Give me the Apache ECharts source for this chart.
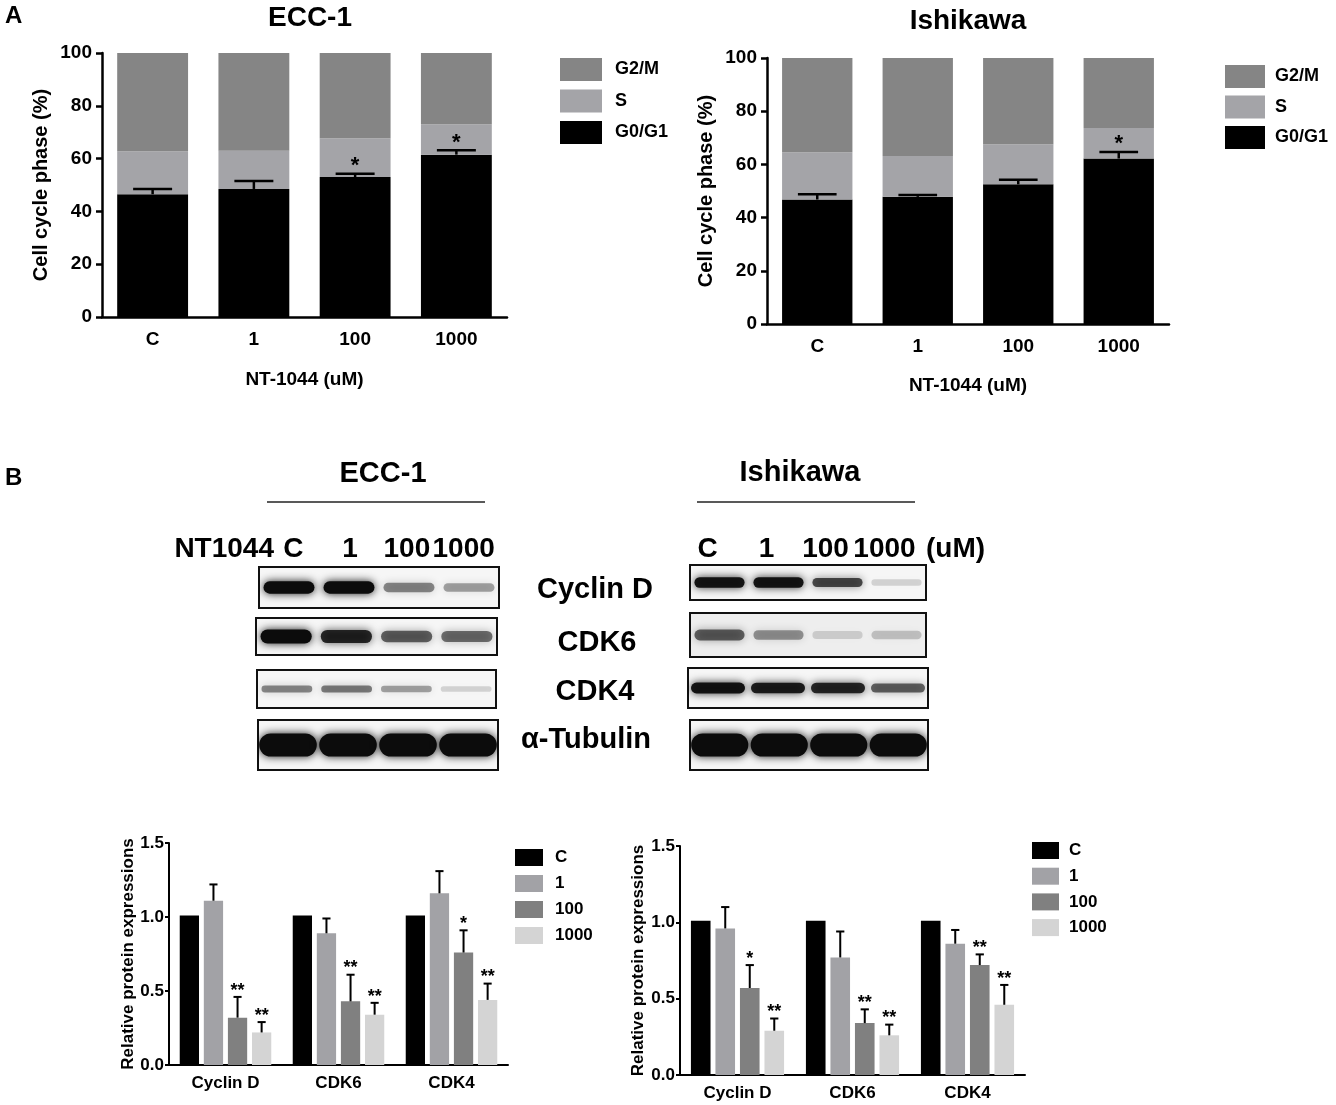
<!DOCTYPE html>
<html>
<head>
<meta charset="utf-8">
<script src="https://cdn.jsdelivr.net/npm/echarts@6.0.0/dist/echarts.min.js"></script>
<style>
  html, body { margin: 0; padding: 0; background: #fff; }
  #main { width: 1336px; height: 1105px; }
</style>
</head>
<body>
<div id="main"></div>
<script>
var FONT = '"Liberation Sans", Arial, sans-serif'

// ---- panel A: cell cycle phase (%) ----
var doses = ['C', '1', '100', '1000']
var phaseNames = ['G0/G1', 'S', 'G2/M']
var eccG0G1 = [46.5, 48.5, 53.0, 61.5]
var eccS = [16.3, 14.5, 14.7, 11.5]
var eccG2M = [37.2, 37.0, 32.3, 27.0]
var eccG0G1Err = [2.0, 3.0, 1.3, 1.7]
var eccPhaseStars = ['', '', '*', '*']
var ishG0G1 = [46.8, 47.8, 52.5, 62.2]
var ishS = [17.8, 15.4, 15.1, 11.5]
var ishG2M = [35.4, 36.8, 32.4, 26.3]
var ishG0G1Err = [2.0, 0.7, 1.7, 2.5]
var ishPhaseStars = ['', '', '', '*']

// ---- panel B: western blot band intensities (0..1 per lane) ----
var blotNames = ['Cyclin D', 'CDK6', 'CDK4', 'α-Tubulin']
var eccCyclinDBand = [1.0, 1.0, 0.45, 0.35]
var eccCdk6Band = [1.0, 0.85, 0.6, 0.55]
var eccCdk4Band = [0.45, 0.5, 0.35, 0.15]
var eccTubulinBand = [1.0, 1.0, 1.0, 1.0]
var ishCyclinDBand = [0.95, 0.95, 0.7, 0.15]
var ishCdk6Band = [0.6, 0.4, 0.15, 0.2]
var ishCdk4Band = [0.95, 0.9, 0.85, 0.6]
var ishTubulinBand = [1.0, 1.0, 1.0, 1.0]

// ---- panel B: relative protein expressions ----
var proteins = ['Cyclin D', 'CDK6', 'CDK4']
var eccC = [1.01, 1.01, 1.01]
var ecc1 = [1.11, 0.89, 1.16]
var ecc100 = [0.32, 0.43, 0.76]
var ecc1000 = [0.22, 0.34, 0.44]
var ecc1Err = [0.11, 0.10, 0.15]
var ecc100Err = [0.14, 0.18, 0.15]
var ecc1000Err = [0.07, 0.08, 0.11]
var ecc100Stars = ['**', '**', '*']
var ecc1000Stars = ['**', '**', '**']
var ishC = [1.01, 1.01, 1.01]
var ish1 = [0.96, 0.77, 0.86]
var ish100 = [0.57, 0.34, 0.72]
var ish1000 = [0.29, 0.26, 0.46]
var ish1Err = [0.14, 0.17, 0.09]
var ish100Err = [0.15, 0.09, 0.07]
var ish1000Err = [0.08, 0.07, 0.13]
var ish100Stars = ['*', '**', '**']
var ish1000Stars = ['**', '**', '**']

var doseColors = ['#000000', '#a2a2a6', '#808080', '#d4d4d4']
var CAT_GAP = 0.19
var BAR_GAP = 0.25

var grids = [], xAxes = [], yAxes = [], series = [], legends = [], graphics = []

function bold(size) {
  return { color: '#000', fontWeight: 'bold', fontSize: size, fontFamily: FONT }
}

function text(x, y, str, size, align) {
  return {
    type: 'text', x: x, y: y, z: 10,
    style: {
      text: str, fill: '#000', font: 'bold ' + size + 'px ' + FONT,
      align: align || 'center', textAlign: align || 'center',
      verticalAlign: 'middle', textVerticalAlign: 'middle'
    }
  }
}

// error bar (upwards only) + significance stars
function errorBar(slot, nSlots, barRatio, capRatio, stars, starSize, lw) {
  return function (params, api) {
    var cat = api.value(0)
    var mean = api.value(1)
    var err = api.value(2)
    var band = api.size([1, 0])[0]
    var base = api.coord([cat, mean])
    var top = api.coord([cat, mean + err])[1]
    var w, x
    if (nSlots > 1) {
      var remained = band * (1 - CAT_GAP)
      w = remained / (nSlots + (nSlots - 1) * BAR_GAP)
      x = base[0] - remained / 2 + slot * w * (1 + BAR_GAP) + w / 2
    } else {
      w = band * barRatio
      x = base[0]
    }
    var cap = w * capRatio
    var kids = [
      { type: 'line', shape: { x1: x, y1: base[1], x2: x, y2: top }, style: { stroke: '#000', lineWidth: lw } },
      { type: 'line', shape: { x1: x - cap / 2, y1: top, x2: x + cap / 2, y2: top }, style: { stroke: '#000', lineWidth: lw } }
    ]
    var star = stars[params.dataIndex]
    if (star) {
      kids.push({
        type: 'text', x: x, y: top - starSize * 0.35,
        style: {
          text: star, fill: '#000', font: 'bold ' + starSize + 'px ' + FONT,
          align: 'center', textAlign: 'center', verticalAlign: 'middle', textVerticalAlign: 'middle'
        }
      })
    }
    return { type: 'group', children: kids }
  }
}

function addPhaseChart(box, g0, s, g2, err, stars, nameGaps) {
  var gi = grids.length
  grids.push({ left: box[0], top: box[1], width: box[2], height: box[3], outerBoundsMode: 'none' })
  xAxes.push({
    gridIndex: gi, type: 'category', data: doses,
    name: 'NT-1044 (uM)', nameLocation: 'middle', nameGap: nameGaps[0], nameTextStyle: bold(19),
    axisLine: { lineStyle: { color: '#000', width: 2.5 } },
    axisTick: { alignWithLabel: true, length: 7, lineStyle: { color: '#000', width: 2.5 } },
    axisLabel: Object.assign({ margin: 13 }, bold(19))
  })
  yAxes.push({
    gridIndex: gi, type: 'value', min: 0, max: 100, interval: 20,
    name: 'Cell cycle phase (%)', nameLocation: 'middle', nameGap: nameGaps[1], nameTextStyle: bold(20),
    splitLine: { show: false },
    axisLine: { show: true, lineStyle: { color: '#000', width: 2.5 } },
    axisTick: { show: true, length: 6, lineStyle: { color: '#000', width: 2.5 } },
    axisLabel: Object.assign({ margin: 10 }, bold(19))
  })
  var parts = [[phaseNames[0], g0, '#000000'], [phaseNames[1], s, '#a4a4a8'], [phaseNames[2], g2, '#858585']]
  parts.forEach(function (p) {
    series.push({
      type: 'bar', name: p[0], stack: 'phase' + gi, xAxisIndex: gi, yAxisIndex: gi,
      barWidth: '70%', data: p[1], itemStyle: { color: p[2] }, silent: true
    })
  })
  series.push({
    type: 'custom', xAxisIndex: gi, yAxisIndex: gi, z: 5, silent: true,
    data: g0.map(function (v, i) { return [i, v, err[i]] }),
    renderItem: errorBar(0, 1, 0.70, 0.55, stars, 22, 2.5)
  })
}

function addExprChart(box, vals, errs, stars, nameGap) {
  var gi = grids.length
  grids.push({ left: box[0], top: box[1], width: box[2], height: box[3], outerBoundsMode: 'none' })
  xAxes.push({
    gridIndex: gi, type: 'category', data: proteins,
    axisLine: { lineStyle: { color: '#000', width: 2 } },
    axisTick: { alignWithLabel: true, length: 5, lineStyle: { color: '#000', width: 2 } },
    axisLabel: Object.assign({ margin: 10 }, bold(17))
  })
  yAxes.push({
    gridIndex: gi, type: 'value', min: 0, max: 1.5, interval: 0.5,
    name: 'Relative protein expressions', nameLocation: 'middle', nameGap: nameGap, nameTextStyle: bold(17),
    splitLine: { show: false },
    axisLine: { show: true, lineStyle: { color: '#000', width: 2 } },
    axisTick: { show: true, length: 4, lineStyle: { color: '#000', width: 2 } },
    axisLabel: Object.assign({ margin: 5, formatter: function (v) { return v.toFixed(1) } }, bold(17))
  })
  vals.forEach(function (arr, k) {
    series.push({
      type: 'bar', name: doses[k], xAxisIndex: gi, yAxisIndex: gi,
      barCategoryGap: (CAT_GAP * 100) + '%', barGap: (BAR_GAP * 100) + '%',
      data: arr, itemStyle: { color: doseColors[k] }, silent: true
    })
    if (errs[k]) {
      series.push({
        type: 'custom', xAxisIndex: gi, yAxisIndex: gi, z: 5, silent: true,
        data: arr.map(function (v, i) { return [i, v, errs[k][i]] }),
        renderItem: errorBar(k, vals.length, 0, 0.42, stars[k] || [], 18, 2)
      })
    }
  })
}

// blot bands drawn on a lane axis
function bandItem(thick, widthRatio) {
  return function (params, api) {
    var a = api.value(1)
    var c = api.coord([api.value(0), 0.5])
    var lane = api.size([1, 0])[0]
    var boxH = api.size([0, 1])[1]
    var h = boxH * thick * (0.55 + 0.45 * a)
    var w = lane * widthRatio
    return {
      type: 'rect',
      shape: { x: c[0] - w / 2, y: c[1] - h / 2, width: w, height: h, r: h / 2 },
      style: { fill: 'rgba(12,12,12,' + a + ')', shadowBlur: 9, shadowColor: 'rgba(0,0,0,' + (a * 0.9) + ')' }
    }
  }
}

function addBlot(box, lanes, thick, widthRatio, bg) {
  var gi = grids.length
  grids.push({
    left: box[0], top: box[1], width: box[2], height: box[3], outerBoundsMode: 'none',
    show: true, borderColor: '#111', borderWidth: 2, backgroundColor: bg || '#f6f6f6'
  })
  xAxes.push({ gridIndex: gi, type: 'category', data: doses, show: false })
  yAxes.push({ gridIndex: gi, type: 'value', min: 0, max: 1, show: false, splitLine: { show: false } })
  series.push({
    type: 'custom', xAxisIndex: gi, yAxisIndex: gi, clip: true, silent: true,
    data: lanes.map(function (v, i) { return [i, v] }),
    renderItem: bandItem(thick, widthRatio)
  })
}

// lane labels row above the blots (its own empty grid)
function addLaneLabels(left, width, top) {
  var gi = grids.length
  grids.push({ left: left, top: top, width: width, height: 1, outerBoundsMode: 'none' })
  xAxes.push({
    gridIndex: gi, type: 'category', data: doses, position: 'top',
    axisLine: { show: false }, axisTick: { show: false },
    axisLabel: Object.assign({ margin: 3, interval: 0, hideOverlap: false }, bold(28))
  })
  yAxes.push({ gridIndex: gi, type: 'value', show: false, splitLine: { show: false } })
}

// panel A
addPhaseChart([102, 53, 405, 264], eccG0G1, eccS, eccG2M, eccG0G1Err, eccPhaseStars, [53, 51])
addPhaseChart([767, 58, 402, 266], ishG0G1, ishS, ishG2M, ishG0G1Err, ishPhaseStars, [52, 51])
legends.push({
  left: 560, top: 58, padding: 0, orient: 'vertical', icon: 'rect', itemWidth: 42, itemHeight: 23, itemGap: 8.5,
  selectedMode: false, data: ['G2/M', 'S', 'G0/G1'], textStyle: Object.assign({ padding: [0, 0, 0, 8] }, bold(18))
})
legends.push({
  left: 1225, top: 65, padding: 0, orient: 'vertical', icon: 'rect', itemWidth: 40, itemHeight: 23, itemGap: 7.5,
  selectedMode: false, data: ['G2/M', 'S', 'G0/G1'], textStyle: Object.assign({ padding: [0, 0, 0, 5] }, bold(18))
})

// panel B charts
addExprChart([169, 843, 339, 222], [eccC, ecc1, ecc100, ecc1000],
  [null, ecc1Err, ecc100Err, ecc1000Err], [null, [], ecc100Stars, ecc1000Stars], 32)
addExprChart([680, 846, 345, 229], [ishC, ish1, ish100, ish1000],
  [null, ish1Err, ish100Err, ish1000Err], [null, [], ish100Stars, ish1000Stars], 33)
legends.push({
  left: 515, top: 849, padding: 0, orient: 'vertical', icon: 'rect', itemWidth: 28, itemHeight: 17, itemGap: 9,
  selectedMode: false, data: doses, textStyle: Object.assign({ padding: [0, 0, 0, 7] }, bold(17))
})
legends.push({
  left: 1032, top: 842, padding: 0, orient: 'vertical', icon: 'rect', itemWidth: 27, itemHeight: 17, itemGap: 8.7,
  selectedMode: false, data: doses, textStyle: Object.assign({ padding: [0, 0, 0, 5] }, bold(17))
})

// panel B blots
addLaneLabels(265, 227, 566)
addLaneLabels(678, 236, 566)
addBlot([259, 567, 240, 41], eccCyclinDBand, 0.3, 0.85)
addBlot([256, 618, 241, 37], eccCdk6Band, 0.38, 0.85)
addBlot([257, 670, 239, 38], eccCdk4Band, 0.24, 0.85)
addBlot([258, 720, 240, 50], eccTubulinBand, 0.46, 0.96)
addBlot([690, 565, 236, 35], ishCyclinDBand, 0.3, 0.85)
addBlot([690, 613, 236, 44], ishCdk6Band, 0.3, 0.85, '#eeeeee')
addBlot([688, 668, 240, 40], ishCdk4Band, 0.28, 0.9)
addBlot([690, 720, 238, 50], ishTubulinBand, 0.46, 0.96)

// titles and labels
graphics.push(text(5, 16, 'A', 24, 'left'))
graphics.push(text(310, 18, 'ECC-1', 28))
graphics.push(text(968, 21, 'Ishikawa', 28))
graphics.push(text(5, 478, 'B', 24, 'left'))
graphics.push(text(383, 474, 'ECC-1', 29))
graphics.push(text(800, 473, 'Ishikawa', 29))
graphics.push({ type: 'line', shape: { x1: 267, y1: 502, x2: 485, y2: 502 }, style: { stroke: '#222', lineWidth: 1.5 } })
graphics.push({ type: 'line', shape: { x1: 697, y1: 502, x2: 915, y2: 502 }, style: { stroke: '#222', lineWidth: 1.5 } })
graphics.push(text(274, 549, 'NT1044', 28, 'right'))
graphics.push(text(926, 549, '(uM)', 28, 'left'))
var blotLabelY = [590, 643, 692, 740]
var blotLabelX = [595, 597, 595, 586]
blotNames.forEach(function (n, i) {
  graphics.push(text(blotLabelX[i], blotLabelY[i], n, 29))
})

var chart = echarts.init(document.getElementById('main'))
chart.setOption({
  backgroundColor: '#fff',
  animation: false,
  grid: grids,
  xAxis: xAxes,
  yAxis: yAxes,
  legend: legends,
  series: series,
  graphic: graphics
})
</script>
</body>
</html>
